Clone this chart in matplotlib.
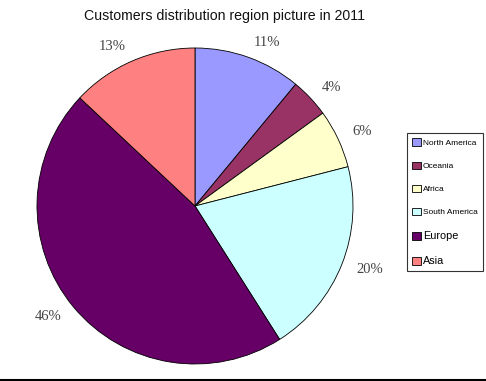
import matplotlib.pyplot as plt
from matplotlib.patches import Patch

regions = ["North America", "Oceania", "Africa", "South America", "Europe", "Asia"]
shares = [11, 4, 6, 20, 46, 13]
colors = ["#9999ff", "#993366", "#ffffcc", "#ccffff", "#660066", "#ff8080"]

fig = plt.figure(figsize=(4.86, 3.81), dpi=100)
fig.patch.set_facecolor("white")

ax = fig.add_axes([(195 - 158) / 486, (381 - 364) / 381, 316 / 486, 316 / 381])
wedges, texts = ax.pie(
    shares,
    colors=colors,
    startangle=90,
    counterclock=False,
    labels=["%d%%" % s for s in shares],
    labeldistance=1.1,
    wedgeprops=dict(edgecolor="black", linewidth=0.6),
    textprops=dict(family="Liberation Serif", fontsize=10.5, color="#444444"),
)
ax.set_xlim(-1, 1)
ax.set_ylim(-1, 1)
ax.set_aspect("equal")

fig.text(225 / 486, 1 - 16 / 381, "Customers distribution region picture in 2011",
         ha="center", va="center", family="Liberation Sans", fontsize=10.2, color="#111111")

handles = [Patch(facecolor=c, edgecolor="black", linewidth=0.6) for c in colors]
leg = fig.legend(handles, regions, loc="upper left",
                 bbox_to_anchor=(407 / 486, 1 - 133 / 381),
                 prop=dict(family="Liberation Sans", size=6.0),
                 frameon=True, fancybox=False, edgecolor="black",
                 handlelength=1.0, handleheight=1.0, handletextpad=0.25,
                 labelspacing=1.75, borderpad=0.65, borderaxespad=0)
leg.get_frame().set_linewidth(0.8)
for t in leg.get_texts()[4:]:
    t.set_fontsize(7.8)

# bottom rule
fig.add_artist(plt.Line2D([0, 1], [1.5 / 381, 1.5 / 381], color="black", linewidth=1.5))

fig.savefig("out.png", dpi=100)
